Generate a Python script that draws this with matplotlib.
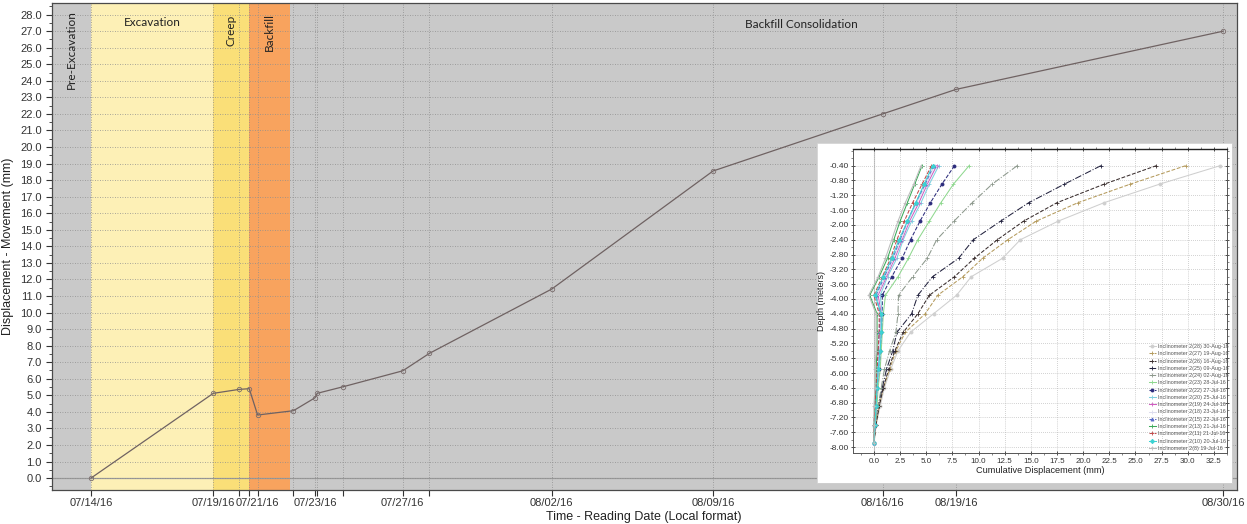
import matplotlib
matplotlib.use("Agg")
import matplotlib.pyplot as plt
import matplotlib.dates as mdates
import matplotlib.transforms as mtrans
from matplotlib.ticker import MultipleLocator, FixedLocator, FormatStrFormatter, FixedFormatter
import numpy as np
import pandas as pd

# ---------------- main time series ----------------
reading_times = ["2016-07-14 12:00", "2016-07-19 13:50", "2016-07-20 15:50", "2016-07-21 01:40",
                 "2016-07-21 10:00", "2016-07-22 21:40", "2016-07-23 19:10", "2016-07-23 21:20",
                 "2016-07-24 23:20", "2016-07-27 10:35", "2016-07-28 13:00", "2016-08-02 15:00",
                 "2016-08-09 07:40", "2016-08-16 08:40", "2016-08-19 09:40", "2016-08-30 12:00"]
movement_mm = [0.0, 5.12, 5.36, 5.40, 3.81, 4.07, 4.85, 5.12, 5.52, 6.48, 7.53, 11.42,
               18.55, 22.0, 23.48, 27.0]
tick_labels = ["07/14/16", "07/19/16", "", "", "07/21/16", "", "07/23/16", "", "",
               "07/27/16", "", "08/02/16", "08/09/16", "08/16/16", "08/19/16", "08/30/16"]

phase_names = ["Pre-Excavation", "Excavation", "Creep", "Backfill", "Backfill Consolidation"]
phase_bounds = ["2016-07-12 21:10", "2016-07-14 12:00", "2016-07-19 13:50", "2016-07-21 01:40",
                "2016-07-22 18:00", "2016-08-31 01:40"]
phase_colors = ["#c9c9c9", "#fdf0b6", "#fadf78", "#f8a35e", "#c9c9c9"]
phase_label_pos = ["", "", "", "", "2016-08-13 00:00"]

# ---------------- inclinometer profiles ----------------
depths_m = [-0.4, -0.9, -1.4, -1.9, -2.4, -2.9, -3.4, -3.9, -4.4, -4.9, -5.4, -5.9, -6.4, -6.9, -7.4, -7.9]

incl_labels = ["Inclinometer 2(28) 30-Aug-16", "Inclinometer 2(27) 19-Aug-16",
               "Inclinometer 2(26) 16-Aug-16", "Inclinometer 2(25) 09-Aug-16",
               "Inclinometer 2(24) 02-Aug-16", "Inclinometer 2(23) 28-Jul-16",
               "Inclinometer 2(22) 27-Jul-16", "Inclinometer 2(20) 25-Jul-16",
               "Inclinometer 2(19) 24-Jul-16", "Inclinometer 2(18) 23-Jul-16",
               "Inclinometer 2(15) 22-Jul-16", "Inclinometer 2(13) 21-Jul-16",
               "Inclinometer 2(11) 21-Jul-16", "Inclinometer 2(10) 20-Jul-16",
               "Inclinometer 2(8) 19-Jul-16"]

disp_28 = [33.1, 27.3, 22.0, 17.6, 14.0, 12.3, 9.3, 7.9, 5.7, 3.5, 2.3, 1.6, 1.0, 0.6, 0.2, 0.0]
disp_27 = [29.8, 24.5, 19.5, 15.5, 12.8, 10.4, 8.5, 6.1, 4.9, 3.0, 2.1, 1.5, 0.9, 0.5, 0.2, 0.0]
disp_26 = [27.0, 22.0, 17.5, 14.3, 11.8, 9.6, 7.7, 5.3, 4.2, 2.8, 2.0, 1.4, 0.9, 0.5, 0.2, 0.0]
disp_25 = [21.7, 18.2, 14.8, 12.1, 9.5, 8.1, 5.6, 4.2, 3.6, 2.2, 1.8, 1.2, 0.8, 0.4, 0.1, 0.0]
disp_24 = [13.7, 11.3, 9.4, 7.65, 6.0, 5.1, 3.7, 2.35, 2.3, 2.1, 1.5, 1.0, 0.7, 0.4, 0.1, 0.0]
disp_23 = [9.1, 7.6, 6.4, 5.3, 4.2, 3.3, 2.3, 1.1, 0.9, 0.8, 0.7, 0.6, 0.4, 0.3, 0.1, 0.0]
disp_22 = [7.7, 6.5, 5.4, 4.4, 3.5, 2.7, 1.7, 0.8, 0.8, 0.7, 0.6, 0.5, 0.3, 0.2, 0.1, 0.0]
disp_20 = [6.2, 5.3, 4.5, 3.6, 2.8, 2.2, 1.3, 0.6, 0.8, 0.7, 0.6, 0.5, 0.3, 0.2, 0.1, 0.0]
disp_19 = [6.0, 5.1, 4.3, 3.4, 2.7, 2.0, 1.2, 0.4, 0.7, 0.6, 0.5, 0.4, 0.3, 0.2, 0.1, 0.0]
disp_18 = [5.8, 5.0, 4.1, 3.3, 2.6, 1.9, 1.1, 0.3, 0.6, 0.6, 0.5, 0.4, 0.3, 0.2, 0.1, 0.0]
disp_15 = [5.7, 4.9, 4.0, 3.2, 2.5, 1.8, 1.0, 0.2, 0.6, 0.5, 0.4, 0.3, 0.2, 0.1, 0.0, 0.0]
disp_13 = [4.6, 3.9, 3.2, 2.5, 1.9, 1.3, 0.5, -0.4, 0.3, 0.3, 0.3, 0.2, 0.2, 0.1, 0.0, 0.0]
disp_11 = [5.5, 4.6, 3.7, 2.9, 2.2, 1.6, 0.8, 0.0, 0.5, 0.5, 0.4, 0.3, 0.2, 0.1, 0.0, 0.0]
disp_10 = [5.6, 4.8, 4.0, 3.2, 2.4, 1.7, 0.9, 0.1, 0.7, 0.7, 0.6, 0.4, 0.3, 0.2, 0.1, 0.0]
disp_8 = [4.5, 3.8, 3.0, 2.3, 1.7, 1.1, 0.4, -0.5, 0.2, 0.2, 0.2, 0.1, 0.1, 0.0, 0.0, 0.0]

incl_colors = ["#cfcfcf", "#b49a5c", "#3a2e2e", "#23233f", "#8c988c", "#8fd88f", "#2c2c7c",
               "#7fd0e0", "#d05cc0", "#dcdcee", "#5a6cc8", "#3caa5a", "#c04a4a", "#3cd2d2", "#bdbdbd"]
incl_styles = ["-", "--", "--", "-.", "-.", "-", "--", "-", "-", "-", "--", "-", "--", "-", "-"]
incl_markers = ["o", "+", "+", "+", "+", "+", "o", "+", "+", "+", "^", "+", "+", "D", "+"]

# ---------------- figure ----------------
W, H = 1247, 524
fig = plt.figure(figsize=(W / 100, H / 100), dpi=100)
fig.patch.set_facecolor("white")
plt.rcParams["font.family"] = ["Liberation Sans", "DejaVu Sans"]

def fx(px):
    return px / W

def fy(py):
    return 1 - py / H

ax = fig.add_axes([fx(52), fy(490), fx(1237) - fx(52), fy(3) - fy(490)])
ax.set_facecolor("#c9c9c9")

t_read = mdates.date2num(pd.to_datetime(reading_times))
bounds = mdates.date2num(pd.to_datetime(phase_bounds))

for i in range(len(phase_names)):
    ax.axvspan(bounds[i], bounds[i + 1], color=phase_colors[i], lw=0, zorder=0)

ax.set_xlim(bounds[0], bounds[-1])
ax.set_ylim(-0.72, 28.7)

ax.yaxis.set_major_locator(MultipleLocator(1.0))
ax.yaxis.set_minor_locator(MultipleLocator(0.5))
ax.yaxis.set_major_formatter(FormatStrFormatter("%.1f"))
ax.xaxis.set_major_locator(FixedLocator(t_read))
ax.xaxis.set_major_formatter(FixedFormatter(tick_labels))

ax.grid(True, which="major", color="#8e8e8e", linestyle=(0, (1, 2)), lw=0.6, zorder=1)
ax.axhline(0, color="#9a9a9a", lw=0.9, zorder=1)

ax.plot(t_read, movement_mm, color="#6f6262", lw=0.9, marker="o", ms=3.2,
        mfc="none", mec="#7a6d6d", mew=0.6, zorder=3)

ax.tick_params(axis="both", which="major", labelsize=8, colors="#333333", length=4, width=0.8)
ax.tick_params(axis="x", which="major", pad=2)
ax.tick_params(axis="y", which="minor", length=2.5, width=0.6, colors="#333333")
for s in ax.spines.values():
    s.set_color("#4a4a4a")
    s.set_linewidth(0.9)

ax.set_ylabel("Displacement - Movement (mm)", fontsize=9, color="#222222", labelpad=4)
ax.set_xlabel("Time - Reading Date (Local format)", fontsize=9, color="#222222")
ax.xaxis.set_label_coords((644 - 52) / (1237 - 52), -(511 - 490) / (490 - 3))

blend = mtrans.blended_transform_factory(ax.transData, ax.transAxes)

def yfrac(py):
    return 1 - (py - 3) / (490 - 3)

ph_font = dict(family=["Lato", "DejaVu Sans"], fontsize=8.5, color="#222222")
ax.text((bounds[0] + bounds[1]) / 2, yfrac(50), phase_names[0], rotation=90, ha="center",
        va="center", transform=blend, **ph_font)
ax.text((bounds[1] + bounds[2]) / 2, yfrac(23), phase_names[1], ha="center", va="center",
        transform=blend, **ph_font)
ax.text((bounds[2] + bounds[3]) / 2, yfrac(30), phase_names[2], rotation=90, ha="center",
        va="center", transform=blend, **ph_font)
ax.text((bounds[3] + bounds[4]) / 2, yfrac(32), phase_names[3], rotation=90, ha="center",
        va="center", transform=blend, **ph_font)
ax.text(mdates.date2num(pd.Timestamp(phase_label_pos[4])), yfrac(24), phase_names[4],
        ha="center", va="center", transform=blend, **ph_font)

# ---------------- inset ----------------
bg = fig.add_axes([fx(817), fy(483), fx(1232) - fx(817), fy(143) - fy(483)])
bg.set_facecolor("white")
bg.set_xticks([])
bg.set_yticks([])
for s in bg.spines.values():
    s.set_color("#d0d0d0")
    s.set_linewidth(0.6)

iax = fig.add_axes([fx(853), fy(453), fx(1227) - fx(853), fy(149) - fy(453)])
iax.set_facecolor("white")

profiles = [disp_28, disp_27, disp_26, disp_25, disp_24, disp_23, disp_22, disp_20,
            disp_19, disp_18, disp_15, disp_13, disp_11, disp_10, disp_8]

iax.axvline(0, color="#c8c8c8", lw=0.8, zorder=1)
for vals, lab, c, ls, mk in zip(profiles, incl_labels, incl_colors, incl_styles, incl_markers):
    iax.plot(vals, depths_m, color=c, ls=ls, lw=0.75, marker=mk, ms=2.2, mew=0.6,
             label=lab, zorder=3)

iax.set_xlim(-2.0, 33.75)
iax.set_ylim(-8.16, 0.05)
iax.xaxis.set_major_locator(MultipleLocator(2.5))
iax.xaxis.set_minor_locator(MultipleLocator(1.25))
iax.xaxis.set_major_formatter(FormatStrFormatter("%.1f"))
iax.yaxis.set_major_locator(FixedLocator(np.round(np.arange(-0.4, -8.01, -0.4), 2)))
iax.yaxis.set_minor_locator(MultipleLocator(0.2))
iax.yaxis.set_major_formatter(FormatStrFormatter("%.2f"))
iax.grid(True, which="major", color="#a8a8a8", linestyle=(0, (1, 2)), lw=0.5, zorder=0)
iax.tick_params(axis="x", which="major", labelsize=5.8, colors="#333333", length=2.5,
                width=0.6, top=True, direction="inout", pad=2)
iax.tick_params(axis="y", which="major", labelsize=6, colors="#333333", length=2.5,
                width=0.6, right=True, direction="inout", pad=2)
iax.tick_params(which="minor", length=1.5, width=0.5, top=True, right=True, colors="#555555")
for s in iax.spines.values():
    s.set_color("#555555")
    s.set_linewidth(0.7)
iax.spines["top"].set_color("#222222")
iax.spines["top"].set_linewidth(1.0)
iax.set_ylabel("Depth (meters)", fontsize=6.5, color="#222222", labelpad=2)
iax.set_xlabel("Cumulative Displacement (mm)", fontsize=6.6, color="#222222", labelpad=1)

leg = iax.legend(loc="lower right", bbox_to_anchor=(1.01, 0.0), frameon=False, fontsize=3.9,
                 labelspacing=0.42, handlelength=1.3, handletextpad=0.4, borderaxespad=0.2,
                 borderpad=0.2)
for t in leg.get_texts():
    t.set_color("#555555")

fig.savefig("out.png", dpi=100)
